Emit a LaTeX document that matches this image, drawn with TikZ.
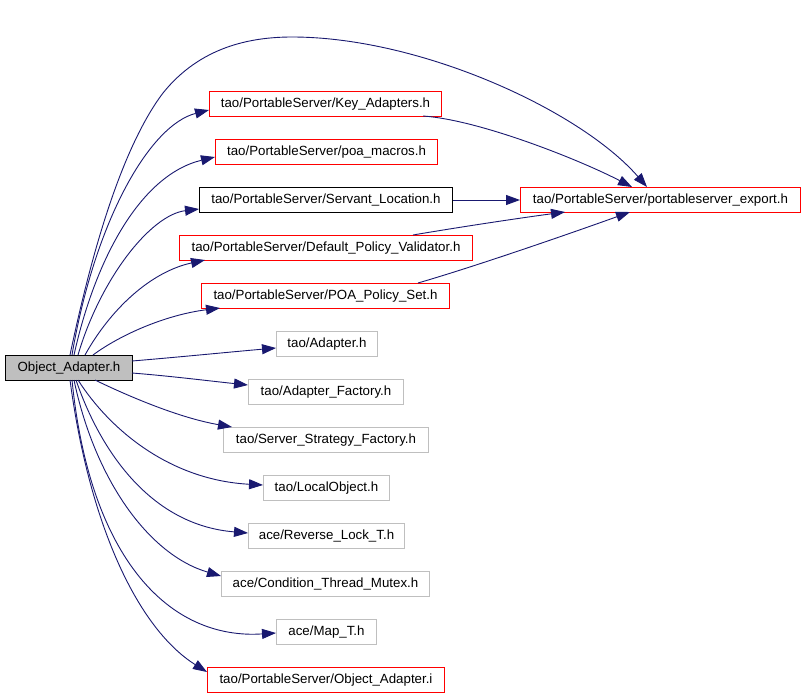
\documentclass[tikz,border=0pt]{standalone}
\usepackage{fontspec}
\setmainfont{Liberation Sans}
\usetikzlibrary{arrows.meta,calc}
\definecolor{edgeblue}{HTML}{191970}
\definecolor{boxgrey}{HTML}{BFBFBF}
\begin{document}
\begin{tikzpicture}[x=1pt,y=-1pt,
  box/.style={draw, line width=1pt, rectangle, inner sep=0pt, anchor=north west,
    minimum height=25pt, font=\fontsize{13.3}{15}\selectfont},
  redbox/.style={box, draw=red},
  greybox/.style={box, draw=boxgrey},
  blackbox/.style={box, draw=black},
  mainbox/.style={box, draw=black, fill=boxgrey},
  dep/.style={draw=edgeblue, line width=0.9pt, -{Triangle[length=14pt,width=10pt,fill=edgeblue]}}]
\fill[white] (0,0) rectangle (805,696);
\useasboundingbox (0,0) rectangle (805,696);

% nodes
\node[mainbox, minimum width=127pt] (oa) at (5,355) {Object\_Adapter.h};
\node[redbox, minimum width=232pt] (ka) at (209,91) {tao/PortableServer/Key\_Adapters.h};
\node[redbox, minimum width=222pt] (pm) at (215,139) {tao/PortableServer/poa\_macros.h};
\node[blackbox, minimum width=253pt] (sl) at (199,187) {tao/PortableServer/Servant\_Location.h};
\node[redbox, minimum width=293pt] (dpv) at (179,235) {tao/PortableServer/Default\_Policy\_Validator.h};
\node[redbox, minimum width=248pt] (pps) at (201,283) {tao/PortableServer/POA\_Policy\_Set.h};
\node[greybox, minimum width=101pt] (ad) at (276,331) {tao/Adapter.h};
\node[greybox, minimum width=155pt] (af) at (248,379) {tao/Adapter\_Factory.h};
\node[greybox, minimum width=205pt] (ssf) at (223,427) {tao/Server\_Strategy\_Factory.h};
\node[greybox, minimum width=126pt] (lo) at (263,475) {tao/LocalObject.h};
\node[greybox, minimum width=156pt] (rl) at (248,523) {ace/Reverse\_Lock\_T.h};
\node[greybox, minimum width=208pt] (ctm) at (221,571) {ace/Condition\_Thread\_Mutex.h};
\node[greybox, minimum width=100pt] (mt) at (276,619) {ace/Map\_T.h};
\node[redbox, minimum width=237pt] (oai) at (207,667) {tao/PortableServer/Object\_Adapter.i};
\node[redbox, minimum width=280pt] (exp) at (520,187) {tao/PortableServer/portableserver\_export.h};

\coordinate (w1) at (163,93);
\coordinate (peak) at (292,37);

% edges from Object_Adapter.h
\draw[dep] ($(oa.north west)+(65,0)$) .. controls +(20,-95) and +(-43,57) .. (w1)
  .. controls +(37,-46) and +(-42,0) .. (peak)
  .. controls +(128,0) and +(-67,-77) .. ($(exp.north west)+(127,0)$);
\draw[dep] ($(oa.north west)+(67,0)$) .. controls +(23,-135) and +(-59,15) .. ($(ka.north west)+(0,19)$);
\draw[dep] ($(oa.north west)+(69,0)$) .. controls +(21,-95) and +(-75,18) .. ($(pm.north west)+(0,18)$);
\draw[dep] ($(oa.north west)+(73,0)$) .. controls +(22,-75) and +(-49,6) .. ($(sl.north west)+(0,22)$);
\draw[dep] ($(oa.north west)+(80,0)$) .. controls +(25,-45) and +(-55,12) .. ($(dpv.north west)+(26,25)$);
\draw[dep] ($(oa.north west)+(88,0)$) .. controls +(27,-20) and +(-55,7) .. ($(pps.north west)+(19,25)$);
\draw[dep] ($(oa.north west)+(127,6)$) .. controls +(48,-4) and +(-46,4) .. ($(ad.north west)+(0,17)$);
\draw[dep] ($(oa.north west)+(127,18)$) .. controls +(38,3) and +(-38,-4) .. ($(af.north west)+(0,6)$);
\draw[dep] ($(oa.north west)+(90,25)$) .. controls +(35,17) and +(-52,-9) .. ($(ssf.north west)+(9,0)$);
\draw[dep] ($(oa.north west)+(73,25)$) .. controls +(32,50) and +(-93,-5) .. ($(lo.north west)+(0,10)$);
\draw[dep] ($(oa.north west)+(71,25)$) .. controls +(24,70) and +(-98,-8) .. ($(rl.north west)+(0,10)$);
\draw[dep] ($(oa.north west)+(69,25)$) .. controls +(21,100) and +(-72,-21) .. ($(ctm.north west)+(0,5)$);
\draw[dep] ($(oa.north west)+(67,25)$) .. controls +(18,180) and +(-106,7) .. ($(mt.north west)+(0,14)$);
\draw[dep] ($(oa.north west)+(65,25)$) .. controls +(20,150) and +(-67,-42) .. ($(oai.north west)+(0,5)$);

% edges to portableserver_export.h
\draw[dep] ($(ka.north west)+(214,25)$) .. controls +(57,4) and +(-52,-27) .. ($(exp.north west)+(112,0)$);
\draw[dep] (sl.east) -- (exp.west);
\draw[dep] ($(dpv.north west)+(234,0)$) .. controls +(47,-8) and +(-45,6) .. ($(exp.north west)+(45,25)$);
\draw[dep] ($(pps.north west)+(217,0)$) .. controls +(62,-18) and +(-50,18) .. ($(exp.north west)+(110,25)$);
\end{tikzpicture}
\end{document}
